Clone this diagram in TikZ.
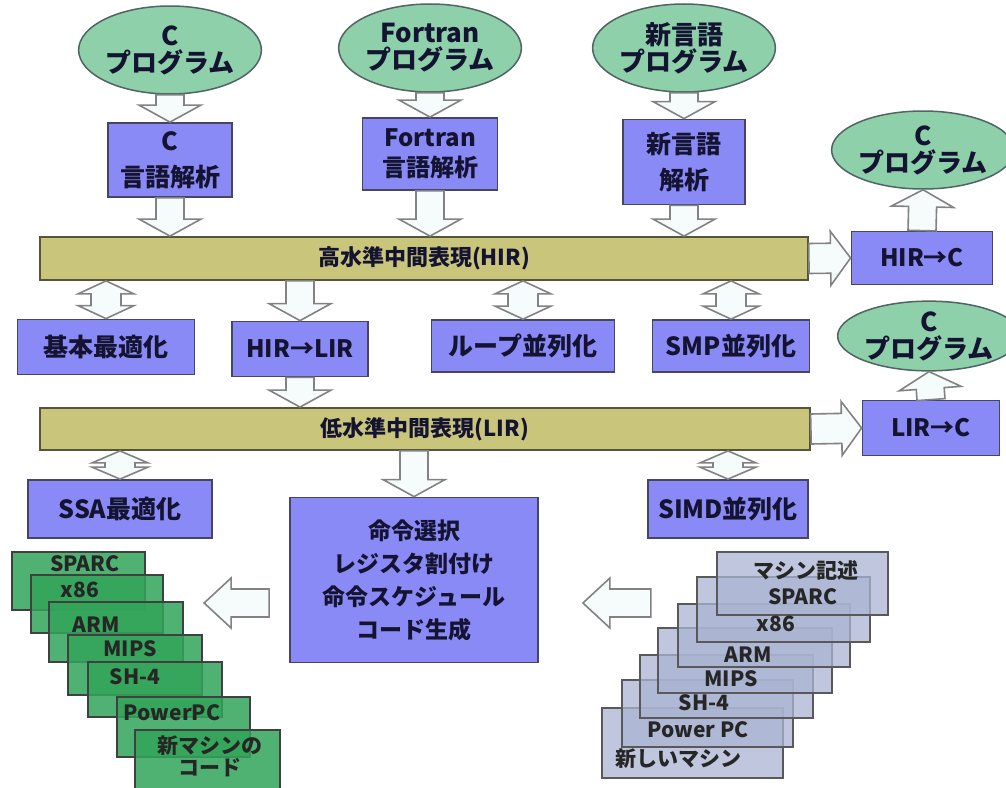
\documentclass[tikz,border=0pt]{standalone}
\usepackage{fontspec}
\setmainfont{Noto Sans CJK JP}
\usetikzlibrary{calc,shapes.geometric}
\definecolor{boxfill}{RGB}{138,138,246}
\definecolor{boxline}{RGB}{70,70,100}
\definecolor{barfill}{RGB}{201,197,122}
\definecolor{barline}{RGB}{85,85,60}
\definecolor{ellfill}{RGB}{142,208,170}
\definecolor{ellline}{RGB}{80,100,100}
\definecolor{arrline}{RGB}{130,130,130}
\definecolor{arrfill}{RGB}{246,251,251}
\definecolor{grnfill}{RGB}{50,165,90}
\definecolor{gryfill}{RGB}{170,180,210}
\definecolor{txt}{RGB}{20,20,50}
\tikzset{
 x=1pt,y=1pt,
 ell/.style={ellipse, draw=ellline, line width=1.5pt, fill=ellfill, inner sep=0pt, align=center, text=txt, font=\fontsize{26}{27}\selectfont\bfseries},
 box/.style={rectangle, draw=boxline, line width=1.8pt, fill=boxfill, inner sep=0pt, align=center, text=txt, font=\fontsize{25}{36}\selectfont\bfseries},
 bar/.style={rectangle, draw=barline, line width=1.8pt, fill=barfill, inner sep=0pt, text=txt, font=\fontsize{22}{24}\selectfont\bfseries},
 barrow/.style={draw=arrline, line width=1.6pt, fill=arrfill, line join=miter},
 grn/.style={draw=black!75, line width=1.5pt, fill=grnfill, fill opacity=0.85},
 gry/.style={draw=black!65, line width=1.5pt, fill=gryfill, fill opacity=0.75},
 stk/.style={text=black!85, font=\fontsize{21}{22}\selectfont\bfseries, inner sep=0pt, align=center},
}
\def\SW{14pt}\def\HW{31pt}\def\HL{17pt}
% single block arrow from #1 to #2
\newcommand\sarrow[2]{%
 \coordinate (ah) at ($(#2)!\HL!(#1)$);
 \draw[barrow] ($(#1)!\SW!90:(#2)$) -- ($(ah)!\SW!90:(#2)$) -- ($(ah)!\HW!90:(#2)$) -- (#2)
   -- ($(ah)!\HW!-90:(#2)$) -- ($(ah)!\SW!-90:(#2)$) -- ($(#1)!\SW!-90:(#2)$) -- cycle;}
% double block arrow between #1 and #2
\newcommand\darrow[2]{%
 \coordinate (ah) at ($(#2)!\HL!(#1)$);
 \coordinate (at) at ($(#1)!\HL!(#2)$);
 \draw[barrow] (#1) -- ($(at)!\HW!90:(#2)$) -- ($(at)!\SW!90:(#2)$) -- ($(ah)!\SW!90:(#2)$) -- ($(ah)!\HW!90:(#2)$) -- (#2)
   -- ($(ah)!\HW!-90:(#2)$) -- ($(ah)!\SW!-90:(#2)$) -- ($(at)!\SW!-90:(#2)$) -- ($(at)!\HW!-90:(#2)$) -- cycle;}
\begin{document}
\begin{tikzpicture}
\fill[white] (0,0) rectangle (1006,-787);
\useasboundingbox (0,0) rectangle (1006,-787);

% source programs
\node[ell, minimum width=172pt, minimum height=88pt] (e1) at (170,-50) {C\\プログラム};
\node[ell, minimum width=170pt, minimum height=88pt] (e2) at (430,-48) {Fortran\\プログラム};
\node[ell, minimum width=150pt, minimum height=88pt] (e3) at (684,-48) {新言語\\プログラム};

% front ends
\node[box, minimum width=124pt, minimum height=74pt] (b1) at (170,-160) {C\\言語解析};
\node[box, minimum width=135pt, minimum height=72pt, font=\fontsize{24}{30}\selectfont\bfseries] (b2) at (430,-154) {Fortran\\言語解析};
\node[box, minimum width=122pt, minimum height=85pt] (b3) at (684,-162) {新言語\\解析};

% HIR
\node[bar, minimum width=768pt, minimum height=43pt] (hbar) at (424,-258.5) {高水準中間表現(HIR)};
\node[box, minimum width=141pt, minimum height=53pt, font=\fontsize{24}{24}\selectfont\bfseries] (hc) at (922,-258) {HIR→C};
\node[ell, minimum width=162pt, minimum height=78pt] (e4) at (923,-150) {C\\プログラム};

% HIR modules
\node[box, minimum width=177pt, minimum height=55pt] (o1) at (106,-347) {基本最適化};
\node[box, minimum width=136pt, minimum height=55pt, font=\fontsize{24}{24}\selectfont\bfseries] (o2) at (300,-349) {HIR→LIR};
\node[box, minimum width=183pt, minimum height=52pt] (o3) at (523,-346) {ループ並列化};
\node[box, minimum width=157pt, minimum height=52pt] (o4) at (731,-346) {SMP並列化};

% LIR
\node[bar, minimum width=770pt, minimum height=42pt] (lbar) at (425,-429) {低水準中間表現(LIR)};
\node[box, minimum width=137pt, minimum height=55pt, font=\fontsize{24}{24}\selectfont\bfseries] (lc) at (931,-428) {LIR→C};
\node[ell, minimum width=156pt, minimum height=68pt] (e5) at (929,-336) {C\\プログラム};

% LIR modules
\node[box, minimum width=184pt, minimum height=58pt] (s1) at (120,-509) {SSA最適化};
\node[box, minimum width=248pt, minimum height=165pt, font=\fontsize{23}{33}\selectfont\bfseries] (cb) at (414,-580) {命令選択\\レジスタ割付け\\命令スケジュール\\コード生成};
\node[box, minimum width=160pt, minimum height=58pt] (s2) at (728,-509) {SIMD並列化};

% arrows: programs -> front ends -> HIR
\coordinate (t1) at (e1.south -| b1.north);
\coordinate (t2) at (e2.south -| b2.north);
\coordinate (t3) at (e3.south -| b3.north);
\sarrow{t1}{b1.north}
\sarrow{t2}{b2.north}
\sarrow{t3}{b3.north}
\coordinate (u1) at (hbar.north -| b1.south);
\coordinate (u2) at (hbar.north -| b2.south);
\coordinate (u3) at (hbar.north -| b3.south);
\sarrow{b1.south}{u1}
\sarrow{b2.south}{u2}
\sarrow{b3.south}{u3}

% HIR <-> modules
\coordinate (v2) at (hbar.south -| o2.north);
\sarrow{v2}{o2.north}
\coordinate (w2) at (lbar.north -| o2.south);
\sarrow{o2.south}{w2}
\coordinate (w3) at (lbar.south -| cb.north);
\sarrow{w3}{cb.north}
\begingroup
\def\SW{15pt}\def\HW{28pt}\def\HL{13pt}
\coordinate (v1) at (hbar.south -| o1.north);
\coordinate (v3) at (hbar.south -| o3.north);
\coordinate (v4) at (hbar.south -| o4.north);
\darrow{v1}{o1.north}
\darrow{v3}{o3.north}
\darrow{v4}{o4.north}
\def\HL{12pt}
\coordinate (x1) at (lbar.south -| s1.north);
\coordinate (x2) at (lbar.south -| s2.north);
\darrow{x1}{s1.north}
\darrow{x2}{s2.north}
\endgroup

% to C back ends
\begingroup
\def\SW{15pt}\def\HW{27pt}\def\HL{20pt}
\sarrow{hbar.east}{hc.west}
\sarrow{lbar.east}{lc.west}
\endgroup
\sarrow{hc.north}{e4.south}
\sarrow{lc.north}{e5.south}

% green code stack
\path[grn] (12,-552) rectangle (145,-610);
\path[grn] (31,-575) rectangle (163,-633);
\path[grn] (49,-602) rectangle (183,-662);
\path[grn] (68,-635) rectangle (202,-695);
\path[grn] (88,-662) rectangle (222,-717);
\path[grn] (117,-697) rectangle (250,-757);
\path[grn] (135,-730) rectangle (280,-800);
\node[stk] (g1) at (85,-564) {SPARC};
\node[stk] (g2) at (80,-590) {x86};
\node[stk] (g3) at (96,-625) {ARM};
\node[stk] (g4) at (130,-649) {MIPS};
\node[stk] (g5) at (135,-677) {SH-4};
\node[stk] (g6) at (172,-713) {PowerPC};
\node[stk] (g7) at (210,-756) {新マシンの\\コード};

% grey machine description stack
\path[gry] (602,-708) rectangle (783,-778);
\path[gry] (622,-680) rectangle (793,-747);
\path[gry] (640,-655) rectangle (813,-718);
\path[gry] (658,-628) rectangle (832,-693);
\path[gry] (678,-604) rectangle (850,-667);
\path[gry] (697,-577) rectangle (870,-642);
\path[gry] (717,-552) rectangle (888,-615);
\node[stk] (m0) at (806,-570) {マシン記述};
\node[stk] (m1) at (803,-597) {SPARC};
\node[stk] (m2) at (776,-624) {x86};
\node[stk] (m3) at (748,-655) {ARM};
\node[stk] (m4) at (731,-679) {MIPS};
\node[stk] (m5) at (704,-703) {SH-4};
\node[stk] (m6) at (698,-730) {Power PC};
\node[stk] (m7) at (678,-759) {新しいマシン};

% code generator arrows
\coordinate (ga) at ($(cb.west)+(-20,-23)$);
\coordinate (gb) at ($(cb.west)+(-85,-23)$);
\coordinate (ma) at ($(cb.east)+(112,-23)$);
\coordinate (mb) at ($(cb.east)+(44,-23)$);
\begingroup
\def\SW{14pt}\def\HW{25pt}\def\HL{27pt}
\sarrow{ga}{gb}
\sarrow{ma}{mb}
\endgroup
\end{tikzpicture}
\end{document}
